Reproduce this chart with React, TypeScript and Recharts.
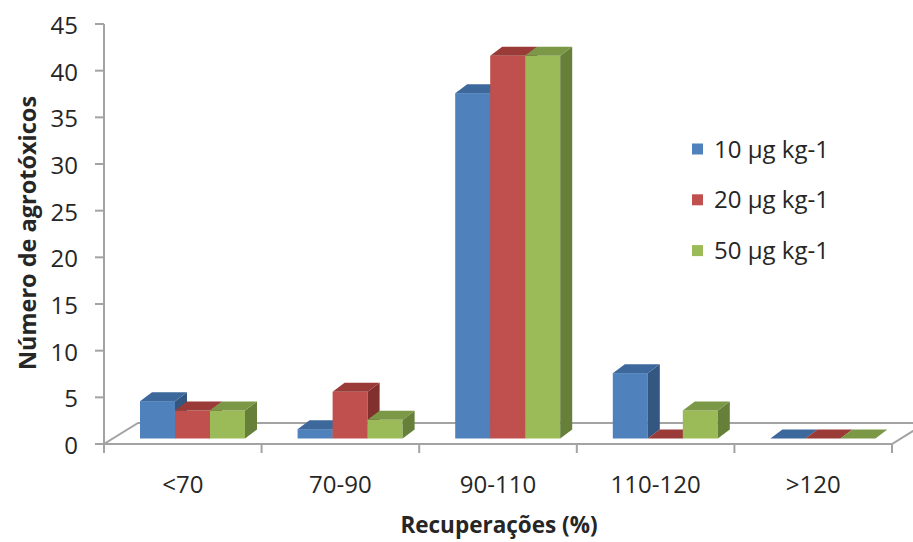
import React from "react";
import { BarChart, Bar, XAxis, YAxis, Customized } from "recharts";

// recovery ranges and number of pesticides per spiking level
const categories = ["<70", "70-90", "90-110", "110-120", ">120"];
const level10 = [4, 1, 37, 7, 0];
const level20 = [3, 5, 41, 0, 0];
const level50 = [3, 2, 41, 3, 0];
const seriesNames = ["10 μg kg-1", "20 μg kg-1", "50 μg kg-1"];
const yTicks = [0, 5, 10, 15, 20, 25, 30, 35, 40, 45];

const data = categories.map((c, i) => ({
  range: c,
  l10: level10[i],
  l20: level20[i],
  l50: level50[i],
}));

const FONT = "'Open Sans', sans-serif";
const TEXT = "#262626";
const AXIS = "#a3a3a3";

const CHART_W = 913;
const CHART_H = 542;
const MARGIN = { top: 24, right: 21, left: 0, bottom: 0 };
const Y_AXIS_W = 104;
const X_AXIS_H = 98;
const PLOT_LEFT = MARGIN.left + Y_AXIS_W;
const PLOT_RIGHT = CHART_W - MARGIN.right;
const PLOT_BOTTOM = CHART_H - MARGIN.bottom - X_AXIS_H;

// floor depth and column depth of the 3-D look
const FLOOR_DX = 34;
const FLOOR_DY = 21;
const COL_DX = 12;
const COL_DY = 9;
// columns stand a little way back on the floor
const SHIFT_X = 10;
const SHIFT_Y = -5.5;

const palette = [
  { front: "#4f81bd", top: "#3d689c", side: "#345781" },
  { front: "#c0504d", top: "#9a3b38", side: "#82302e" },
  { front: "#9bbb59", top: "#7b9847", side: "#66803a" },
];

const make3D = (c: { front: string; top: string; side: string }) => (props: any) => {
  const { x, y, width, height } = props;
  if (x == null || y == null) return <g />;
  const X = x + SHIFT_X;
  const Y = y + SHIFT_Y;
  const W = width;
  const H = Math.max(height, 0);
  const top = `${X},${Y} ${X + COL_DX},${Y - COL_DY} ${X + W + COL_DX},${Y - COL_DY} ${X + W},${Y}`;
  const side = `${X + W},${Y} ${X + W + COL_DX},${Y - COL_DY} ${X + W + COL_DX},${Y + H - COL_DY} ${X + W},${Y + H}`;
  return (
    <g>
      {H > 0 && <rect x={X} y={Y} width={W} height={H} fill={c.front} />}
      {H > 0 && <polygon points={side} fill={c.side} />}
      <polygon points={top} fill={c.top} />
    </g>
  );
};

const Floor = () => {
  const step = (PLOT_RIGHT - PLOT_LEFT) / categories.length;
  const ticks = Array.from({ length: categories.length + 1 }, (_, i) => PLOT_LEFT + i * step);
  const pts = `${PLOT_LEFT},${PLOT_BOTTOM} ${PLOT_RIGHT},${PLOT_BOTTOM} ${PLOT_RIGHT + FLOOR_DX},${PLOT_BOTTOM - FLOOR_DY} ${PLOT_LEFT + FLOOR_DX},${PLOT_BOTTOM - FLOOR_DY}`;
  return (
    <g>
      <polygon points={pts} fill="#fff" stroke={AXIS} strokeWidth={2} />
      {ticks.map((t) => (
        <line key={t} x1={t} x2={t} y1={PLOT_BOTTOM} y2={PLOT_BOTTOM + 9} stroke={AXIS} strokeWidth={2} />
      ))}
    </g>
  );
};

const Labels = () => (
  <g fontFamily={FONT}>
    <text
      x={27}
      y={233}
      transform="rotate(-90 27 233)"
      textAnchor="middle"
      dominantBaseline="central"
      fontSize={23.5}
      fontWeight="bold"
      fill={TEXT}
    >
      Número de agrotóxicos
    </text>
    <text x={499} y={533} textAnchor="middle" fontSize={22.5} fontWeight="bold" fill={TEXT}>
      Recuperações (%)
    </text>
    {seriesNames.map((name, i) => {
      const cy = 149 + i * 50.8;
      return (
        <g key={name}>
          <rect x={692} y={cy - 5.5} width={11} height={11} fill={palette[i].front} />
          <text x={714} y={cy + 8.5} fontSize={24} fill={TEXT}>
            {name}
          </text>
        </g>
      );
    })}
  </g>
);

const XTick = (props: any) => {
  const { x, payload } = props;
  return (
    <text x={x} y={PLOT_BOTTOM + 48.5} textAnchor="middle" fontSize={24} fontFamily={FONT} fill={TEXT}>
      {payload.value}
    </text>
  );
};

const YTick = (props: any) => {
  const { x, y, payload } = props;
  return (
    <text x={x} y={y + 10} textAnchor="end" fontSize={24} fontFamily={FONT} fill={TEXT}>
      {payload.value}
    </text>
  );
};

export default function App() {
  return (
    <div style={{ position: "absolute", left: 0, top: 0, background: "#fff" }}>
      <BarChart width={CHART_W} height={CHART_H} data={data} margin={MARGIN} barGap={0}>
        <Customized component={Floor} />
        <XAxis
          dataKey="range"
          height={X_AXIS_H}
          axisLine={{ stroke: AXIS, strokeWidth: 2 }}
          tickLine={false}
          tick={<XTick />}
          interval={0}
        />
        <YAxis
          width={Y_AXIS_W}
          domain={[0, 45]}
          ticks={yTicks}
          tickSize={9}
          tickMargin={17}
          axisLine={{ stroke: AXIS, strokeWidth: 2 }}
          tickLine={{ stroke: AXIS, strokeWidth: 2 }}
          tick={<YTick />}
          allowDataOverflow
        />
        <Bar dataKey="l10" name={seriesNames[0]} barSize={35} isAnimationActive={false} shape={make3D(palette[0])} />
        <Bar dataKey="l20" name={seriesNames[1]} barSize={35} isAnimationActive={false} shape={make3D(palette[1])} />
        <Bar dataKey="l50" name={seriesNames[2]} barSize={35} isAnimationActive={false} shape={make3D(palette[2])} />
        <Customized component={Labels} />
      </BarChart>
    </div>
  );
}
